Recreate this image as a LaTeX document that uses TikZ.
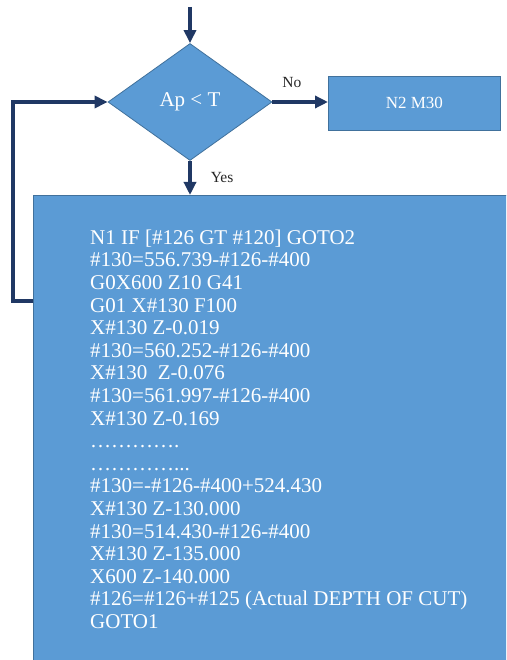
\documentclass[tikz,border=0pt]{standalone}
\usepackage{fontspec}
\setmainfont{Liberation Serif}
\usetikzlibrary{shapes.geometric,arrows.meta,positioning}

\definecolor{boxblue}{HTML}{5B9BD5}
\definecolor{edgeblue}{HTML}{41719C}
\definecolor{linenavy}{HTML}{203864}

\tikzset{
  decision/.style={diamond, fill=boxblue, draw=edgeblue, line width=0.8pt,
    minimum width=164pt, minimum height=117pt, aspect=1.4, inner sep=0pt,
    text=white, font=\fontsize{21}{24}\selectfont},
  stepbox/.style={rectangle, fill=boxblue, draw=edgeblue, line width=0.8pt,
    inner sep=0pt, text=white},
  codetext/.style={align=left, inner sep=0pt, text=white,
    font=\fontsize{21}{22.6}\selectfont},
  flow/.style={draw=linenavy, line width=3.6pt,
    -{Triangle[length=13pt,width=12pt]}},
  tag/.style={inner sep=0pt, text=black!85, font=\fontsize{15.5}{18}\selectfont}
}

\begin{document}
\begin{tikzpicture}[x=1pt,y=-1pt]
  \useasboundingbox (0,0) rectangle (506,660);
  \clip (0,0) rectangle (506,660);
  % blocks
  \node[decision] (test) at (190,102) {Ap < T};
  \node[stepbox, anchor=north west, minimum width=172pt, minimum height=54pt,
        font=\fontsize{17}{20}\selectfont] (stop) at (328,76) {N2 M30};
  \node[stepbox, anchor=north west, minimum width=500pt, minimum height=490pt] (loop) at (33,195) {};
  \node[codetext, anchor=north west] (code) at (90,229.5) {%
    N1 IF [\#126 GT \#120] GOTO2\\
    \#130=556.739-\#126-\#400\\
    G0X600 Z10 G41\\
    G01 X\#130 F100\\
    X\#130 Z-0.019\\
    \#130=560.252-\#126-\#400\\
    X\#130\ \ Z-0.076\\
    \#130=561.997-\#126-\#400\\
    X\#130 Z-0.169\\
    \ldots\ldots\ldots\ldots.\\
    \ldots\ldots\ldots\ldots...\\
    \#130=-\#126-\#400+524.430\\
    X\#130 Z-130.000\\
    \#130=514.430-\#126-\#400\\
    X\#130 Z-135.000\\
    X600 Z-140.000\\
    \#126=\#126+\#125 (Actual DEPTH OF CUT)\\
    GOTO1};
  % connectors
  \coordinate (start) at (190,7);
  \coordinate (back) at (33,301);
  \coordinate (corner) at (13,102);
  \draw[flow] (start) -- (test.north);
  \draw[flow] (test.east) -- node[tag, pos=0.35, above=13pt] {No} (test.east -| stop.west);
  \draw[flow] (test.south) -- node[tag, right=19pt] {Yes} (test.south |- loop.north);
  \draw[flow] (back) -| (corner) -- (test.west);
\end{tikzpicture}
\end{document}
